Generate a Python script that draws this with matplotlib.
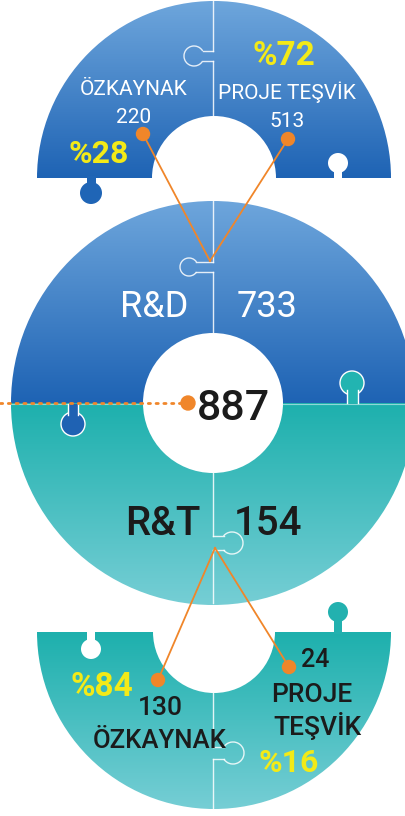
import numpy as np
import matplotlib
matplotlib.use("Agg")
import matplotlib.pyplot as plt
from matplotlib.patches import Wedge, Circle, Rectangle, Arc
from matplotlib.colors import LinearSegmentedColormap
from matplotlib import font_manager

# ---------------- data ----------------
categories = ["R&D", "R&T"]
category_totals = [733, 154]
grand_total = 887
source_labels = ["ÖZKAYNAK", "PROJE TEŞVİK"]
ozkaynak_values = [220, 130]
proje_values = [513, 24]
ozkaynak_pct = [28, 84]
proje_pct = [72, 16]

# ---------------- fonts ----------------
names = {f.name for f in font_manager.fontManager.ttflist}
FONT = "Liberation Sans Narrow" if "Liberation Sans Narrow" in names else "Roboto"
FAM = [FONT, "DejaVu Sans"]

W, H = 405, 816
fig = plt.figure(figsize=(W / 100, H / 100), dpi=100)
ax = fig.add_axes([0, 0, 1, 1])
ax.set_axis_off()

BLUE_TOP, BLUE_BOT = "#6ea6dc", "#1e63b4"
TEAL_TOP, TEAL_BOT = "#1db0ad", "#76ced5"
YELLOW = "#f3ea17"
ORANGE = "#f0862a"
DARK = "#1b1b1b"


def grad_fill(patch, y0, y1, c0, c1):
    patch.set_facecolor("none")
    patch.set_edgecolor("none")
    ax.add_patch(patch)
    arr = np.linspace(0, 1, 256).reshape(-1, 1)
    cmap = LinearSegmentedColormap.from_list("g", [c0, c1])
    im = ax.imshow(arr, cmap=cmap, extent=(0, W, y1, y0), origin="upper",
                   aspect="auto", interpolation="bilinear", zorder=1)
    im.set_clip_path(patch)


def split_line(xs, y_top, y_bot, ky, side, r=10, neck=8, nh=5, lw=1.0, z=3):
    """vertical white seam with a puzzle-knob outline"""
    cx = xs + side * (neck + r)
    g = np.degrees(np.arcsin(nh / r))
    ax.plot([xs, xs], [y_top, ky - nh], color="white", lw=lw, alpha=0.85, zorder=z)
    ax.plot([xs, xs], [ky + nh, y_bot], color="white", lw=lw, alpha=0.85, zorder=z)
    ex = cx - side * r * np.cos(np.radians(g))
    ax.plot([xs, ex], [ky - nh, ky - nh], color="white", lw=lw, alpha=0.85, zorder=z)
    ax.plot([xs, ex], [ky + nh, ky + nh], color="white", lw=lw, alpha=0.85, zorder=z)
    if side < 0:
        t1, t2 = g, 360 - g
    else:
        t1, t2 = 180 + g, 540 - g
    ax.add_patch(Arc((cx, ky), 2 * r, 2 * r, theta1=t1, theta2=t2,
                     color="white", lw=lw, alpha=0.85, zorder=z))


def knob(cx, cy, r, neck_y0, neck_y1, nw, color, edge="white", z=2):
    ax.add_patch(Circle((cx, cy), r, facecolor=color, edgecolor=edge, lw=1.0, zorder=z))
    ax.add_patch(Rectangle((cx - nw / 2, min(neck_y0, neck_y1)), nw, abs(neck_y1 - neck_y0),
                           facecolor=color, edgecolor="none", zorder=z + 0.1))
    if edge != "none":
        for dx in (-nw / 2, nw / 2):
            ax.plot([cx + dx, cx + dx], [neck_y0, neck_y1], color=edge, lw=1.0, zorder=z + 0.2)


# ---------------- top half-ring (R&D split) ----------------
cT = (214, 178)
grad_fill(Wedge(cT, 177, 180, 360, width=115), 1, 178, BLUE_TOP, BLUE_BOT)
knob(91, 193, 11, 176, 185, 9, "#1f65b6", edge="none")
knob(338, 163, 10, 170, 179, 8, "white", edge="none")
split_line(213, 1, 117, 56, -1, r=10, neck=9)

# ---------------- middle full ring ----------------
cM = (213, 403)
grad_fill(Wedge(cM, 202, 180, 360, width=132), 200, 403, BLUE_TOP, BLUE_BOT)
grad_fill(Wedge(cM, 202, 0, 180, width=132), 403, 605, TEAL_TOP, TEAL_BOT)
ax.plot([11, 143], [403.5, 403.5], color="white", lw=0.8, alpha=0.5, zorder=2)
ax.plot([283, 415], [403.5, 403.5], color="white", lw=0.8, alpha=0.5, zorder=2)
knob(352, 383, 12, 390, 403, 11, "#22b4b1")
knob(73, 424, 12, 404, 415, 10, "#1f62b3")
split_line(213, 200, 333, 267, -1, r=9, neck=15)
split_line(213, 473, 603, 543, +1, r=11, neck=8, nh=7)

# ---------------- bottom half-ring (R&T split) ----------------
cB = (214, 632)
grad_fill(Wedge(cB, 177, 0, 180, width=116), 632, 809, TEAL_TOP, TEAL_BOT)
knob(91, 649, 10, 630, 642, 8, "white", edge="none")
knob(338, 612, 10, 618, 634, 8, "#22b1af", edge="none")
split_line(213, 693, 808, 753, +1, r=11, neck=9, nh=6)

# ---------------- orange connectors ----------------
joins = [(210, 261), (215, 548)]
ends = [[(143, 134), (288, 139)], [(158, 680), (289, 667)]]
for j, pair in zip(joins, ends):
    for e in pair:
        ax.plot([j[0], e[0]], [j[1], e[1]], color=ORANGE, lw=1.3, zorder=5)
        ax.add_patch(Circle(e, 6.5, color=ORANGE, zorder=6))
ax.plot([0, 188], [403, 403], color=ORANGE, lw=2.0, linestyle=(0, (0.8, 2.0)),
        dash_capstyle="round", zorder=5)
ax.add_patch(Circle((188, 403), 7, color=ORANGE, zorder=6))

# ---------------- texts ----------------
def txt(x, y, s, size, color, weight=None):
    if weight is None:
        weight = "normal" if color == "white" else "medium"
    ax.text(x, y, s, fontsize=size, color=color, family=FAM, weight=weight,
            ha="center", va="baseline", zorder=8)

# top (R&D breakdown)
txt(134, 95, source_labels[0], 15, "white")
txt(134, 123, str(ozkaynak_values[0]), 15, "white")
txt(99, 163, f"%{ozkaynak_pct[0]}", 23, YELLOW, "bold")
txt(284, 65, f"%{proje_pct[0]}", 24, YELLOW, "bold")
txt(287, 99, source_labels[1], 15, "white")
txt(287, 127, str(proje_values[0]), 15, "white")

# middle
txt(154, 317, categories[0], 26, "white")
txt(267, 317, str(category_totals[0]), 26, "white")
txt(233, 420, str(grand_total), 31, DARK)
txt(163, 535, categories[1], 29, DARK)
txt(268, 535, str(category_totals[1]), 29, DARK)

# bottom (R&T breakdown)
txt(102, 696, f"%{ozkaynak_pct[1]}", 24, YELLOW, "bold")
txt(160, 715, str(ozkaynak_values[1]), 19, DARK)
txt(160, 748, source_labels[0], 18.5, DARK)
txt(315, 667, str(proje_values[1]), 18, DARK)
p1, p2 = source_labels[1].split(" ")
txt(312, 702, p1, 19, DARK)
txt(317, 735, p2, 19, DARK)
txt(289, 772, f"%{proje_pct[1]}", 23, YELLOW, "bold")

ax.set_xlim(0, W)
ax.set_ylim(H, 0)
fig.savefig("out.png", dpi=100, facecolor="white")
